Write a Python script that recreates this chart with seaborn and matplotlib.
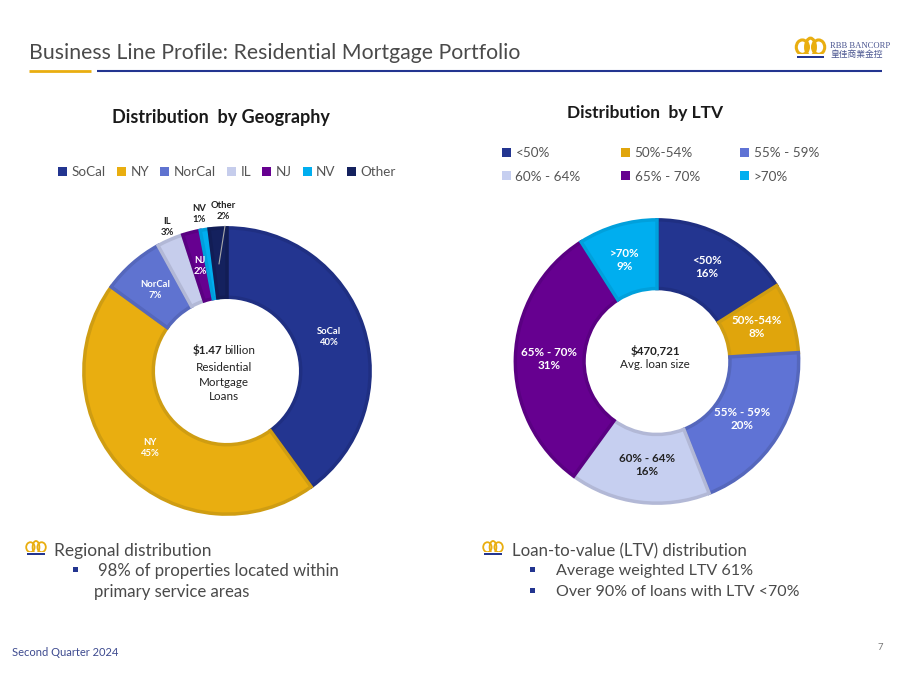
import matplotlib
matplotlib.use("Agg")
import matplotlib.pyplot as plt
from matplotlib.patches import Patch, Rectangle, Ellipse
import seaborn as sns

sns.set_theme(style="white")
plt.rcParams['font.family'] = ['Lato', 'Noto Sans CJK SC', 'DejaVu Sans']

# ---- data ----
geo_labels = ["SoCal", "NY", "NorCal", "IL", "NJ", "NV", "Other"]
geo_values = [40, 45, 7, 3, 2, 1, 2]
geo_colors = ["#233590", "#E9AE10", "#5F73D0", "#C6CDEC", "#660090", "#00AEEF", "#14215E"]
geo_edges = ["#1F2F82", "#CF9D12", "#5567BC", "#B2B8D6", "#5A0082", "#00A0DC", "#121D55"]

ltv_labels = ["<50%", "50%-54%", "55% - 59%", "60% - 64%", "65% - 70%", ">70%"]
ltv_values = [16, 8, 20, 16, 31, 9]
ltv_colors = ["#233590", "#E0A50C", "#5F73D5", "#C6CFF0", "#660090", "#00AEEF"]
ltv_edges = ["#1F2F82", "#CF9D12", "#5567BC", "#B2B8D6", "#5A0082", "#00A0DC"]

GREY = "#4A4A4A"
NAVY = "#233590"
GOLD = "#E9AE10"

fig = plt.figure(figsize=(9, 6.75), dpi=100, facecolor="white")

# overlay in pixel units
ov = fig.add_axes([0, 0, 1, 1], zorder=5)
ov.set_xlim(0, 900)
ov.set_ylim(675, 0)
ov.axis("off")
ov.patch.set_alpha(0)


def donut(cx, cy, r, values, colors, edges, inner):
    ax = fig.add_axes([(cx - r) / 900, 1 - (cy + r) / 675, 2 * r / 900, 2 * r / 675], zorder=2)
    wedges, _ = ax.pie(values, colors=colors, startangle=90, counterclock=False, radius=1,
                       wedgeprops=dict(width=1 - inner, linewidth=2.5))
    for w, e in zip(wedges, edges):
        w.set_edgecolor(e)
        w.set_joinstyle("miter")
    ax.set_xlim(-1.02, 1.02)
    ax.set_ylim(-1.02, 1.02)
    ax.set_aspect("equal")
    ax.axis("off")
    return ax


donut(227, 371, 146, geo_values, geo_colors, geo_edges, 0.515)
donut(657, 361.5, 144.5, ltv_values, ltv_colors, ltv_edges, 0.515)

# header
ov.text(29, 53, "Business Line Profile: Residential Mortgage Portfolio", fontsize=15.3,
        color=GREY, va="center", ha="left")
ov.plot([29, 91], [71, 71], color=GOLD, lw=2, solid_capstyle="butt")
ov.plot([97, 882], [71, 71], color=NAVY, lw=1.5, solid_capstyle="butt")


def crown(x, y, s, lw=1.6):
    # x, y: left / baseline of the crown; s: width
    for cx, w, h in [(0.22, 0.42, 0.8), (0.5, 0.34, 1.0), (0.78, 0.42, 0.8)]:
        ov.add_patch(Ellipse((x + cx * s, y - 0.34 * s), w * s, h * 0.62 * s,
                             fill=False, ec=GOLD, lw=lw))
    ov.add_patch(Rectangle((x - 0.02 * s, y - 0.12 * s), 1.04 * s, 0.2 * s, color="white", lw=0))
    ov.add_patch(Rectangle((x + 0.04 * s, y - 0.05 * s), 0.92 * s, 0.09 * s, color=NAVY, lw=0))


crown(796, 57, 29, lw=2.2)
ov.text(830, 46.5, "RBB BANCORP", fontsize=6.2, color="#4A5590", family="Liberation Serif", va="center")
ov.text(830, 55, "皇佳商業金控", fontsize=6.3, color="#4A5590", family="Noto Sans CJK TC", va="center")

# panel titles
ov.text(221, 118, "Distribution  by Geography", fontsize=13, fontweight="bold", color="#1A1A1A",
        ha="center", va="center")
ov.text(645.5, 113, "Distribution  by LTV", fontsize=12.5, fontweight="bold", color="#1A1A1A",
        ha="center", va="center")

# legends
h1 = [Patch(fc=c, ec="none") for c in geo_colors]
fig.legend(h1, geo_labels, ncol=7, loc="center left", bbox_to_anchor=(58 / 900, 1 - 172 / 675),
           frameon=False, fontsize=9.7, labelcolor="#555555", handlelength=0.65, handleheight=0.65,
           handletextpad=0.35, columnspacing=0.83, borderpad=0, borderaxespad=0)
h2 = [Patch(fc=c, ec="none") for c in ltv_colors]
order = [0, 3, 1, 4, 2, 5]
fig.legend([h2[i] for i in order], [ltv_labels[i] for i in order], ncol=3, loc="center left",
           bbox_to_anchor=(502 / 900, 1 - 165 / 675), frameon=False, fontsize=9.7, labelcolor="#555555",
           handlelength=0.65, handleheight=0.65, handletextpad=0.35, columnspacing=3.0,
           labelspacing=0.85, borderpad=0, borderaxespad=0)

# slice labels
geo_pos = [(329, 337, "white"), (150, 448, "white"), (155, 290, "white"), (167, 227, "#222222"),
           (200, 266, "white"), (199, 214, "#222222"), (223, 211, "#222222")]
for n, v, (x, y, c) in zip(geo_labels, geo_values, geo_pos):
    ov.text(x, y, f"{n}\n{v}%", fontsize=6.8, fontweight="bold", color=c, ha="center", va="center",
            linespacing=1.25)
ov.plot([225, 219], [226, 264], color="#AAAAAA", lw=0.8)

ltv_pos = [(707, 267, "white"), (757, 327, "white"), (742, 419, "white"), (647, 465, "#222222"),
           (549, 359, "white"), (625, 260, "white")]
for n, v, (x, y, c) in zip(ltv_labels, ltv_values, ltv_pos):
    ov.text(x, y, f"{n}\n{v}%", fontsize=8.4, fontweight="bold", color=c, ha="center", va="center",
            linespacing=1.3)

# centre captions
ov.text(222, 350, r"\$1.47", fontsize=8.4, fontweight="bold", color="#222222", ha="right", va="center")
ov.text(224, 350, "billion", fontsize=8.4, color="#222222", ha="left", va="center")
ov.text(224, 382, "Residential\nMortgage\nLoans", fontsize=8.4, color="#222222", ha="center", va="center",
        linespacing=1.35)
ov.text(655, 351, r"\$470,721", fontsize=8.4, fontweight="bold", color="#222222", ha="center", va="center")
ov.text(655, 365, "Avg. loan size", fontsize=8.4, color="#222222", ha="center", va="center")

# bullets
crown(26, 554, 20, lw=1.3)
ov.text(54, 551, "Regional distribution", fontsize=12.5, color=GREY, va="center")
ov.add_patch(Rectangle((73, 567), 5, 5, color=NAVY, lw=0))
ov.text(98, 571, "98% of properties located within", fontsize=12.05, color=GREY, va="center")
ov.text(94, 592, "primary service areas", fontsize=12.05, color=GREY, va="center")

crown(483, 554, 20, lw=1.3)
ov.text(512, 551, "Loan-to-value (LTV) distribution", fontsize=12.1, color=GREY, va="center")
ov.add_patch(Rectangle((530, 567), 5, 5, color=NAVY, lw=0))
ov.text(556, 571, "Average weighted LTV 61%", fontsize=11.6, color=GREY, va="center")
ov.add_patch(Rectangle((530, 588), 5, 5, color=NAVY, lw=0))
ov.text(556, 592, "Over 90% of loans with LTV <70%", fontsize=11.5, color=GREY, va="center")

# footer
ov.text(12, 652, "Second Quarter 2024", fontsize=8, color="#3D4A8F", va="center")
ov.text(880, 648, "7", fontsize=6.8, color="#777777", ha="center", va="center")

fig.savefig("out.png", dpi=100)
